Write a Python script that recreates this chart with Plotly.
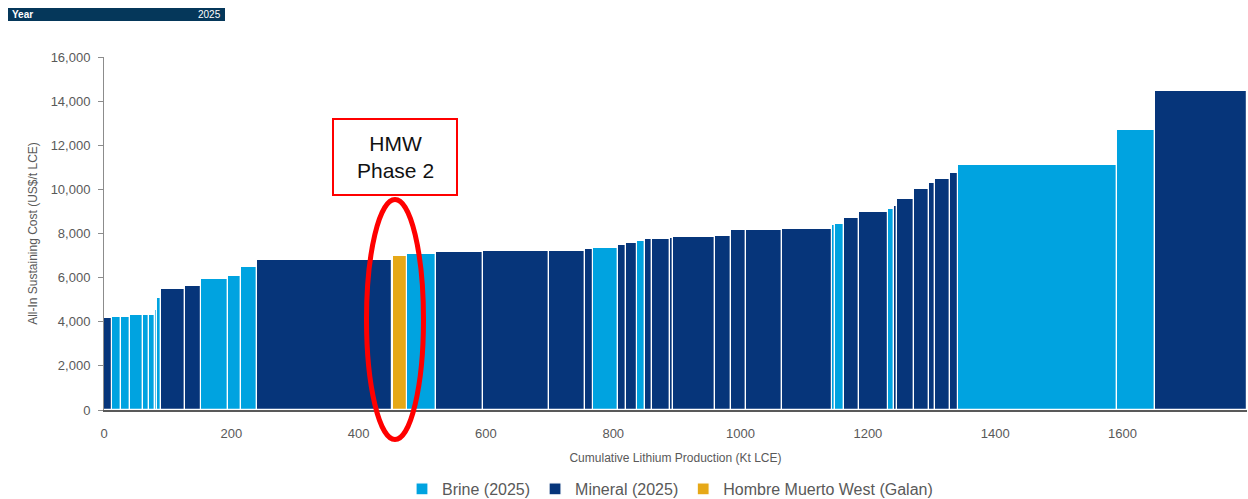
import numpy as np
import plotly.graph_objects as go

# ---- data ----
capacity_kt = [12.6, 14.1, 14.1, 20.4, 9.4, 9.4, 3.1, 6.3, 37.7, 25.1, 42.4, 21.2, 24.3,
               212.1, 2.4, 21.2, 45.6, 73.8, 103.7, 56.6, 12.6, 39.3, 12.6, 17.3, 12.6,
               10.2, 29.1, 4.7, 66.0, 25.1, 23.6, 56.6, 78.5, 3.9, 14.9, 22.8, 47.1, 9.4,
               3.9, 27.5, 23.6, 7.9, 24.3, 12.6, 249.8, 59.7, 144.5]
aisc_cost = [4184, 4215, 4215, 4306, 4306, 4306, 4530, 5090, 5500, 5620, 5940, 6075, 6500,
             6780, 6890, 6980, 7070, 7160, 7200, 7200, 7300, 7340, 7480, 7570, 7660,
             7750, 7750, 7800, 7840, 7890, 8160, 8160, 8200, 8390, 8430, 8700, 8980, 9110,
             9250, 9560, 10020, 10290, 10470, 10740, 11100, 12690, 14460]
project_type = ["M", "B", "B", "B", "B", "B", "B", "B", "M", "M", "B", "B", "B",
                "M", "B", "H", "B", "M", "M", "M", "M", "B", "M", "M", "B",
                "M", "M", "M", "M", "M", "M", "M", "M", "B", "B", "M", "M", "B",
                "M", "M", "M", "M", "M", "M", "B", "B", "M"]
series_names = {"B": "Brine (2025)", "M": "Mineral (2025)", "H": "Hombre Muerto West (Galan)"}
series_colors = {"B": "#00A3E0", "M": "#06357A", "H": "#E6A817"}
x_ticks = [0, 200, 400, 600, 800, 1000, 1200, 1400, 1600]
y_ticks = [0, 2000, 4000, 6000, 8000, 10000, 12000, 14000, 16000]

cap = np.array(capacity_kt)
cost = np.array(aisc_cost)
types = np.array(project_type)
ends = np.cumsum(cap)
starts = ends - cap
centers = starts + cap / 2

fig = go.Figure()
for key in ["B", "M", "H"]:
    m = types == key
    fig.add_trace(go.Bar(
        x=centers[m], y=cost[m], width=cap[m],
        name=series_names[key],
        marker=dict(color=series_colors[key], line=dict(color="white", width=1.2)),
    ))

# pixel -> paper helpers for decorations (plot area 104..1247 x, 57..410 y)
W, H = 1248, 499
L, R, T, B = 104, 1247, 57, 410
def px(x):
    return (x - L) / (R - L)
def py(y):
    return (B - y) / (B - T)

shapes = [
    # header bar
    dict(type="rect", xref="paper", yref="paper", x0=px(8), x1=px(225), y0=py(21), y1=py(8),
         fillcolor="#05375A", line=dict(width=0), layer="above"),
    # HMW box
    dict(type="rect", xref="paper", yref="paper", x0=px(333), x1=px(457), y0=py(195), y1=py(119),
         fillcolor="white", line=dict(color="#FF0000", width=2), layer="above"),
    # ellipse
    dict(type="circle", xref="paper", yref="paper", x0=px(366.5), x1=px(423.5),
         y0=py(439.5), y1=py(199.5), line=dict(color="#FF0000", width=5), layer="above"),
]

annotations = [
    dict(text="<b>Year</b>", xref="paper", yref="paper", x=px(10), y=py(14.5),
         xanchor="left", yanchor="middle", showarrow=False,
         font=dict(family="Liberation Sans, Arial", size=10, color="white")),
    dict(text="2025", xref="paper", yref="paper", x=px(223), y=py(14.5),
         xanchor="right", yanchor="middle", showarrow=False,
         font=dict(family="Liberation Sans, Arial", size=10, color="white")),
    dict(text="HMW<br>Phase 2", xref="paper", yref="paper", x=px(395), y=py(157),
         xanchor="center", yanchor="middle", showarrow=False, align="center",
         font=dict(family="Liberation Sans, Arial", size=21, color="#111111")),
]

fig.update_layout(
    width=W, height=H,
    margin=dict(l=L, r=W - R, t=T, b=H - B),
    paper_bgcolor="white", plot_bgcolor="white",
    barmode="overlay", bargap=0,
    showlegend=True,
    legend=dict(orientation="h", xref="container", yref="container",
                x=670 / W, xanchor="center", y=1 - 489 / H, yanchor="middle",
                font=dict(family="Liberation Sans, Arial", size=16, color="#595959"),
                itemwidth=30, traceorder="normal"),
    shapes=shapes, annotations=annotations,
    font=dict(family="Liberation Sans, Arial", color="#595959"),
)
fig.update_xaxes(
    range=[0, float(ends[-1])], tickvals=x_ticks, ticktext=[str(v) for v in x_ticks],
    showline=True, linecolor="#595959", linewidth=2, ticks="", showgrid=False, zeroline=False,
    tickfont=dict(size=13, color="#595959"), ticklabelstandoff=10, automargin=False,
    title=dict(text="Cumulative Lithium Production (Kt LCE)", standoff=14,
               font=dict(size=12, color="#595959")),
)
fig.update_yaxes(
    range=[0, 16000], tickvals=y_ticks, tickformat=",",
    showline=True, linecolor="#8C8C8C", linewidth=1, ticks="outside", ticklen=5,
    tickcolor="#8C8C8C", showgrid=False, zeroline=False, automargin=False,
    tickfont=dict(size=13, color="#595959"), ticklabelstandoff=5,
    title=dict(text="All-In Sustaining Cost (US$/t LCE)", standoff=10,
               font=dict(size=12, color="#595959")),
)

fig.write_html("out.html", config={"displayModeBar": False},
               post_script="document.body.style.margin='0';document.body.style.padding='0';")
